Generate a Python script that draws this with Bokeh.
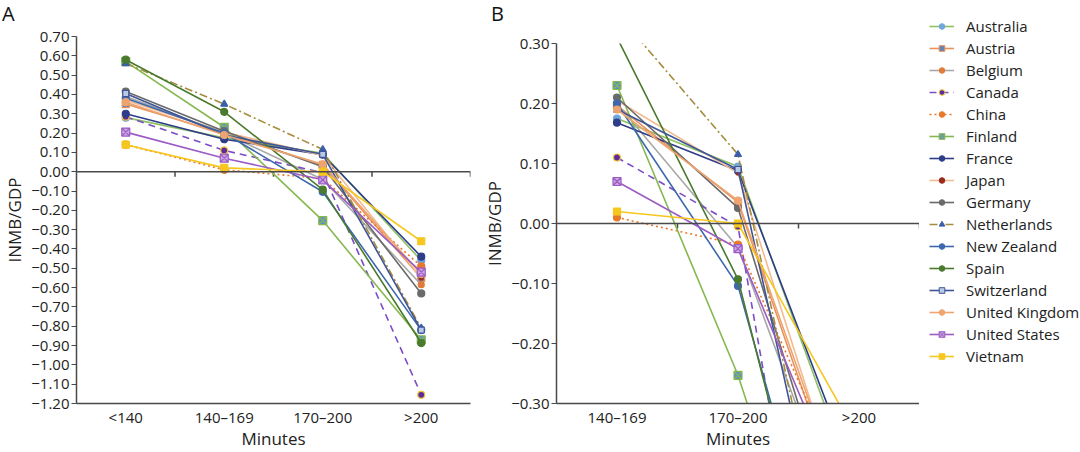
from bokeh.plotting import figure
from bokeh.layouts import row, column
from bokeh.models import (FixedTicker, CustomJSTickFormatter, LinearAxis, Range1d,
                          Legend, LegendItem, Span, Div)
from bokeh.embed import file_html
from bokeh.resources import INLINE

FONT = "Open Sans"

# Operating-time groups (minutes)
minutes = ["<140", "140–169", "170–200", ">200"]

# INMB/GDP per country for each operating-time group
australia = [0.28, 0.175, 0.095, -0.46]
austria = [0.35, 0.197, 0.035, -0.55]
belgium = [0.39, 0.20, -0.04, -0.585]
canada = [0.285, 0.11, -0.005, -1.155]
china = [0.14, 0.01, -0.035, -0.49]
finland = [0.57, 0.23, -0.253, -0.87]
france = [0.30, 0.168, 0.088, -0.44]
japan = [0.37, 0.205, 0.084, -0.55]
germany = [0.415, 0.21, 0.026, -0.63]
netherlands = [0.56, 0.35, 0.115, -0.81]
new_zealand = [0.38, 0.20, -0.104, -0.82]
spain = [0.58, 0.31, -0.093, -0.887]
switzerland = [0.405, 0.19, 0.09, -0.82]
united_kingdom = [0.36, 0.19, 0.038, -0.53]
united_states = [0.205, 0.07, -0.042, -0.52]
vietnam = [0.14, 0.02, 0.0, -0.36]

countries = ["Australia", "Austria", "Belgium", "Canada", "China", "Finland", "France",
             "Japan", "Germany", "Netherlands", "New Zealand", "Spain", "Switzerland",
             "United Kingdom", "United States", "Vietnam"]
series = [australia, austria, belgium, canada, china, finland, france, japan, germany,
          netherlands, new_zealand, spain, switzerland, united_kingdom, united_states, vietnam]

# line colour, dash, marker, marker fill, marker outline, marker size
styles = {
    "Australia": ("#8fc063", "solid", "circle", "#6fa6de", "#6fa6de", 7),
    "Austria": ("#e9925c", "solid", "square", "#6282b8", "#e9925c", 7),
    "Belgium": ("#a8a8a8", "solid", "circle", "#e07b39", "#e07b39", 6),
    "Canada": ("#7b4cc6", "7 5", "circle", "#5a2d9e", "#f2c230", 7),
    "China": ("#e8792a", "2 3", "circle", "#e8792a", "#e8792a", 7),
    "Finland": ("#86b850", "solid", "square_x", "#5f8fc8", "#86b850", 8),
    "France": ("#2e3d8a", "solid", "circle", "#2e3d8a", "#2e3d8a", 7),
    "Japan": ("#f2bb90", "solid", "circle", "#9a2a1c", "#9a2a1c", 4),
    "Germany": ("#6a6a6a", "solid", "circle", "#6a6a6a", "#6a6a6a", 7),
    "Netherlands": ("#a68c3e", "8 3 2 3", "triangle", "#3a5ea8", "#3a5ea8", 7),
    "New Zealand": ("#3e68ae", "solid", "circle", "#3e68ae", "#3e68ae", 7),
    "Spain": ("#4a7a2d", "solid", "circle", "#4a7a2d", "#4a7a2d", 7),
    "Switzerland": ("#3f5597", "solid", "square", "#b9c9e6", "#3f5597", 6),
    "United Kingdom": ("#eea46f", "solid", "circle", "#eea46f", "#eea46f", 7),
    "United States": ("#9b5cc4", "solid", "square_x", "#c9a6e0", "#9b5cc4", 8),
    "Vietnam": ("#f6c71f", "solid", "square", "#f6c71f", "#f6c71f", 7),
}

AXIS = "#4a4a4a"
TEXT = "#222222"
TICK_PX = 5
LINE_W = 1.6


def letter_div(letter, width, height, pad_left):
    html = (f'<div style="font-family:\'{FONT}\';font-size:20px;line-height:27px;'
            f'color:#111111;padding-left:{pad_left}px;">{letter}</div>')
    return Div(text=html, width=width, height=height, margin=0)


def y_formatter():
    return CustomJSTickFormatter(code="""
        const v = Math.round(tick * 100) / 100;
        return (v < 0 ? "\\u2212" : "") + Math.abs(v).toFixed(2);
    """)


def make_panel(cats, y_lo, y_hi, width, height, border_left, border_right,
               border_top, border_bottom):
    n = len(cats)
    frame_h = height - border_top - border_bottom
    p = figure(width=width, height=height, output_backend="svg",
               toolbar_location=None, x_range=Range1d(0, n), y_range=Range1d(y_lo, y_hi),
               min_border_left=border_left, min_border_right=border_right,
               min_border_top=border_top, min_border_bottom=border_bottom,
               x_axis_type=None)
    p.outline_line_color = None
    p.grid.visible = False

    # y axis
    steps = int(round((y_hi - y_lo) / 0.1))
    y_ticks = [round(y_lo + 0.1 * i, 2) for i in range(steps + 1)]
    ya = p.yaxis[0]
    ya.ticker = FixedTicker(ticks=y_ticks)
    ya.formatter = y_formatter()
    ya.axis_label = "INMB/GDP"
    ya.axis_label_text_font = FONT
    ya.axis_label_text_font_size = "17px"
    ya.axis_label_text_font_style = "normal"
    ya.axis_label_text_color = TEXT
    ya.axis_label_standoff = 2
    ya.major_label_text_font = FONT
    ya.major_label_text_font_size = "15px"
    ya.major_label_text_color = TEXT
    ya.major_label_standoff = 2
    ya.major_tick_out = TICK_PX
    ya.major_tick_in = 0
    ya.minor_tick_line_color = None
    ya.axis_line_color = AXIS
    ya.major_tick_line_color = AXIS
    ya.axis_line_width = 1.5
    ya.major_tick_line_width = 1.2

    # bottom axis carrying the group names
    centers = [i + 0.5 for i in range(n)]
    xa = LinearAxis(ticker=FixedTicker(ticks=centers),
                    formatter=CustomJSTickFormatter(args=dict(names=cats),
                                                    code="return names[Math.floor(tick)];"))
    xa.axis_label = "Minutes"
    xa.axis_label_text_font = FONT
    xa.axis_label_text_font_size = "17px"
    xa.axis_label_text_font_style = "normal"
    xa.axis_label_text_color = TEXT
    xa.axis_label_standoff = -3
    xa.major_label_text_font = FONT
    xa.major_label_text_font_size = "15px"
    xa.major_label_text_color = TEXT
    xa.major_label_standoff = 3
    xa.major_tick_out = 0
    xa.major_tick_in = 0
    xa.minor_tick_line_color = None
    xa.axis_line_color = AXIS
    xa.axis_line_width = 1.5
    p.add_layout(xa, "below")

    # zero line with downward tick marks at the group boundaries
    p.add_layout(Span(location=0, dimension="width", line_color=AXIS, line_width=1.5))
    bounds = list(range(1, n + 1))
    tick_len = TICK_PX * (y_hi - y_lo) / frame_h
    p.segment(x0=bounds, y0=[0] * n, x1=bounds, y1=[-tick_len] * n,
              line_color=AXIS, line_width=1.5)
    return p


def draw_series(p, offset):
    for name, vals in zip(countries, series):
        lc, dash, marker, mfill, mline, msize = styles[name]
        ys = vals[offset:]
        xs = [i + 0.5 for i in range(len(ys))]
        p.line(xs, ys, line_color=lc, line_width=LINE_W, line_dash=dash)
        p.scatter(xs, ys, marker=marker, size=msize, fill_color=mfill,
                  line_color=mline, line_width=1.2)


# panel A: all four operating-time groups
letter_a = letter_div("A", 480, 26, 2)
pa = make_panel(minutes, -1.2, 0.7, 480, 426, 70, 10, 10, 48)
draw_series(pa, 0)

# panel B: close-up from 140–169 minutes onward
letter_b = letter_div("B", 439, 33, 11)
pb = make_panel(minutes[1:], -0.3, 0.3, 439, 419, 73, 0, 10, 46)
draw_series(pb, 1)

# legend: each entry is a style-only renderer holding a single empty (NaN) point
pl = figure(width=161, height=452, output_backend="svg", toolbar_location=None,
            x_range=Range1d(0, 1), y_range=Range1d(0, 1),
            x_axis_location=None, y_axis_location=None,
            min_border_left=0, min_border_right=0, min_border_top=5, min_border_bottom=0)
pl.outline_line_color = None
pl.grid.visible = False
nan = float("nan")
items = []
for name in countries:
    lc, dash, marker, mfill, mline, msize = styles[name]
    lr = pl.line(x=[nan], y=[nan], line_color=lc, line_width=LINE_W, line_dash=dash)
    sr = pl.scatter(x=[nan], y=[nan], marker=marker, size=msize, fill_color=mfill,
                    line_color=mline, line_width=1.0)
    items.append(LegendItem(label=name, renderers=[lr, sr]))
legend = Legend(items=items, location="top_left", padding=0, margin=10,
                spacing=0, glyph_width=25, glyph_height=14, label_height=22,
                label_standoff=12, label_text_font=FONT, label_text_font_size="15px",
                label_text_color=TEXT, border_line_color=None,
                background_fill_alpha=0)
pl.add_layout(legend, "center")

layout = row(column(letter_a, pa), column(letter_b, pb), pl)
open("out.html", "w").write(file_html(layout, INLINE))
